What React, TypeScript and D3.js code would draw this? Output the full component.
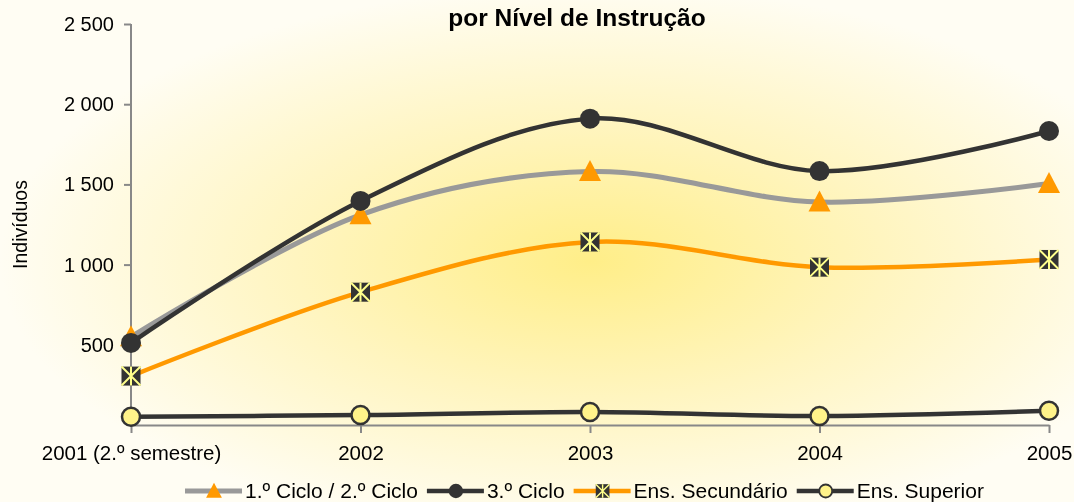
import { useEffect, useRef } from 'react';
import * as d3 from 'd3';

const years = ['2001 (2.º semestre)', '2002', '2003', '2004', '2005'];
const cicloBasico = [550, 1310, 1580, 1390, 1505];
const terceiroCiclo = [512, 1397, 1910, 1583, 1833];
const secundario = [305, 828, 1141, 984, 1032];
const superior = [52, 62, 81, 56, 89];
const yTicks = [500, 1000, 1500, 2000, 2500];

type Marker = 'triangle' | 'circle' | 'star' | 'ring';
type Series = { name: string; values: number[]; stroke: string; width: number; marker: Marker };

const series: Series[] = [
  { name: '1.º Ciclo / 2.º Ciclo', values: cicloBasico, stroke: '#999999', width: 5, marker: 'triangle' },
  { name: '3.º Ciclo', values: terceiroCiclo, stroke: '#333333', width: 4.5, marker: 'circle' },
  { name: 'Ens. Secundário', values: secundario, stroke: '#FF9900', width: 4.5, marker: 'star' },
  { name: 'Ens. Superior', values: superior, stroke: '#333333', width: 4.5, marker: 'ring' },
];

const W = 1074;
const H = 502;
const FONT = 'Arial, "Liberation Sans", sans-serif';

function drawMarker(g: d3.Selection<SVGGElement, unknown, null, undefined>, kind: Marker, s: number) {
  if (kind === 'triangle') {
    const h = 21 * s, w = 22 * s;
    g.append('path')
      .attr('d', `M0,${-h * 0.55}L${w / 2},${h * 0.45}L${-w / 2},${h * 0.45}Z`)
      .attr('fill', '#FF9900');
  } else if (kind === 'circle') {
    g.append('circle').attr('r', 10 * s).attr('fill', '#333333');
  } else if (kind === 'star') {
    const a = 9.5 * s;
    g.append('rect').attr('x', -a).attr('y', -a).attr('width', 2 * a).attr('height', 2 * a).attr('fill', '#333333');
    g.append('path')
      .attr('d', `M${-a},${-a}L${a},${a}M${a},${-a}L${-a},${a}M0,${-a}L0,${a}`)
      .attr('stroke', '#FFFF8C').attr('stroke-width', 2 * s).attr('fill', 'none');
  } else {
    g.append('circle').attr('r', 9 * s).attr('fill', '#FFF38A').attr('stroke', '#333333').attr('stroke-width', 2.5 * s);
  }
}

export default function App() {
  const svgRef = useRef<SVGSVGElement>(null);

  useEffect(() => {
    if (!svgRef.current) return;
    const svg = d3.select(svgRef.current);
    svg.selectAll('*').remove();

    const defs = svg.append('defs');
    const grad = defs.append('radialGradient').attr('id', 'bg')
      .attr('cx', 0.55).attr('cy', 0.52).attr('r', 0.55);
    grad.append('stop').attr('offset', 0).attr('stop-color', '#FFEE88');
    grad.append('stop').attr('offset', 0.5).attr('stop-color', '#FFF5C0');
    grad.append('stop').attr('offset', 1).attr('stop-color', '#FFFDF3');
    svg.append('rect').attr('width', W).attr('height', H).attr('fill', 'url(#bg)');

    const x = d3.scalePoint<string>().domain(years).range([131, 1049]);
    const y = d3.scaleLinear().domain([0, 2500]).range([425, 24]);

    // title (its first line is cut off in the original)
    svg.append('text')
      .attr('x', 577).attr('y', 26)
      .attr('text-anchor', 'middle')
      .attr('font-family', FONT).attr('font-size', 24.5).attr('font-weight', 'bold')
      .text('por Nível de Instrução');

    // y axis
    const yAxis = svg.append('g').attr('transform', `translate(${x(years[0])},0)`)
      .call(d3.axisLeft(y).tickValues(yTicks).tickSize(7).tickPadding(10)
        .tickFormat(d => d3.format(',')(d as number).replace(',', ' ')));
    yAxis.select('.domain').attr('stroke', '#888888').attr('stroke-width', 2)
      .attr('d', `M0,${y(2500)}V${y(0)}`);
    yAxis.selectAll('.tick line').attr('stroke', '#888888').attr('stroke-width', 2);
    yAxis.selectAll('.tick text').attr('font-family', FONT).attr('font-size', 20).attr('fill', '#000');

    // x axis
    const xAxis = svg.append('g').attr('transform', `translate(0,${y(0)})`)
      .call(d3.axisBottom(x).tickSize(8).tickPadding(12).tickSizeOuter(0));
    xAxis.select('.domain').attr('stroke', '#888888').attr('stroke-width', 2);
    xAxis.selectAll('.tick line').attr('stroke', '#888888').attr('stroke-width', 2);
    xAxis.selectAll('.tick text').attr('font-family', FONT).attr('font-size', 20.5).attr('fill', '#000');

    svg.append('text')
      .attr('transform', `translate(27,${y(1250)}) rotate(-90)`)
      .attr('text-anchor', 'middle')
      .attr('font-family', FONT).attr('font-size', 19.5)
      .text('Indivíduos');

    const line = d3.line<number>()
      .x((_, i) => x(years[i]) as number)
      .y(d => y(d))
      .curve(d3.curveCatmullRom.alpha(0));

    series.forEach(s => {
      svg.append('path')
        .attr('d', line(s.values))
        .attr('fill', 'none')
        .attr('stroke', s.stroke)
        .attr('stroke-width', s.width)
        .attr('stroke-linecap', 'round');
      s.values.forEach((v, i) => {
        const g = svg.append('g').attr('transform', `translate(${x(years[i])},${y(v)})`);
        drawMarker(g, s.marker, 1);
      });
    });

    // legend
    const legend = svg.append('g').attr('transform', 'translate(185,491)');
    let cx = 0;
    series.forEach(s => {
      const item = legend.append('g').attr('transform', `translate(${cx},0)`);
      item.append('line').attr('x1', 0).attr('x2', 57).attr('y1', 0).attr('y2', 0)
        .attr('stroke', s.stroke).attr('stroke-width', s.width);
      const m = item.append('g').attr('transform', 'translate(29,0)');
      drawMarker(m, s.marker, 0.72);
      const t = item.append('text').attr('x', 60).attr('y', 7)
        .attr('font-family', FONT).attr('font-size', 21)
        .text(s.name);
      const tw = (t.node() as SVGTextElement).getComputedTextLength();
      cx += 60 + tw + 9;
    });
  }, []);

  return (
    <div style={{ position: 'fixed', left: 0, top: 0 }}>
      <svg ref={svgRef} width={W} height={H} style={{ display: 'block' }} />
    </div>
  );
}
